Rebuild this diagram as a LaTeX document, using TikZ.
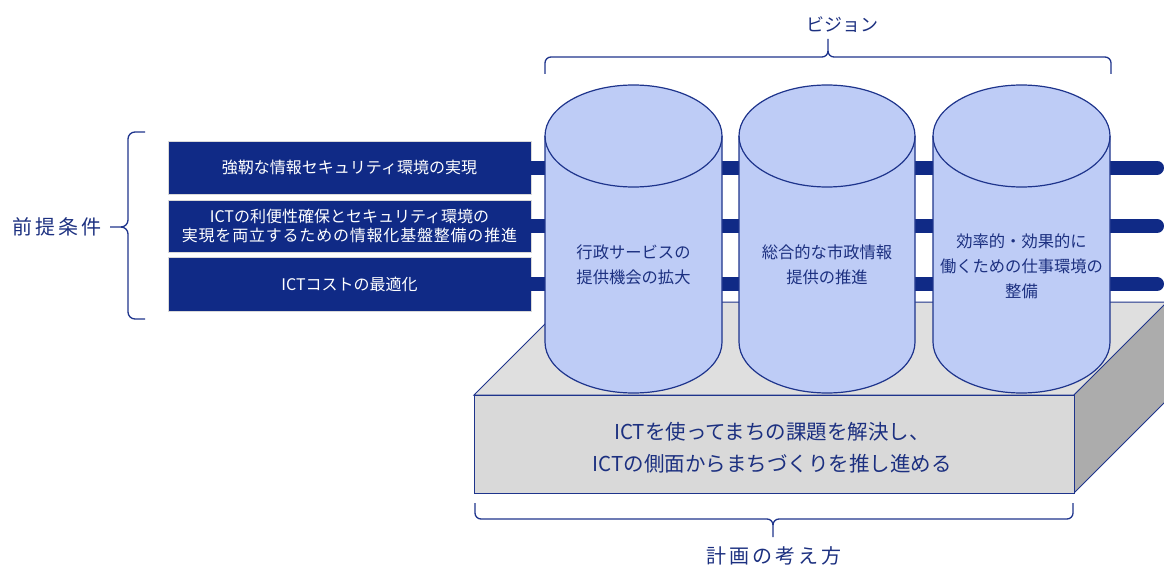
\documentclass[tikz,border=0pt]{standalone}
\usepackage{fontspec}
\setmainfont{Noto Sans CJK JP}
\definecolor{navy}{RGB}{16,42,134}
\definecolor{navyline}{RGB}{30,52,140}
\definecolor{cylfill}{RGB}{190,204,246}
\definecolor{txtnavy}{RGB}{28,48,128}
\definecolor{frontgrey}{RGB}{217,217,217}
\definecolor{topgrey}{RGB}{223,223,223}
\definecolor{sidegrey}{RGB}{172,172,172}
\begin{document}
\begin{tikzpicture}[x=1pt,y=1pt,
  pbox/.style={fill=navy, draw=black!15, line width=0.8pt, text=white, minimum width=363pt, inner sep=0pt, align=center, font=\fontsize{16}{19}\selectfont},
  bar/.style={draw=navy, line width=14pt, line cap=round},
  cyl/.style={fill=cylfill, draw=navyline, line width=1.2pt},
  cyltext/.style={text=txtnavy, align=center, font=\fontsize{16.3}{25}\selectfont},
  brace/.style={draw=navyline, line width=1.3pt},
  face/.style={draw=navyline, line width=1pt},
  lbl/.style={text=txtnavy, inner sep=0pt}]
\useasboundingbox (0,0) rectangle (1164,-567);

% platform top and side faces
\path[face, fill=topgrey] (474,-395) -- (567,-302) -- (1170,-302) -- (1074,-395) -- cycle;
\path[face, fill=sidegrey] (1074,-395) -- (1167,-302) -- (1167,-400) -- (1074,-493) -- cycle;

% premise boxes
\node[pbox, minimum height=53pt] (b1) at (349.5,-167.5) {強靭な情報セキュリティ環境の実現};
\node[pbox, minimum height=52pt] (b2) at (349.5,-226) {ICTの利便性確保とセキュリティ環境の\\{\addfontfeature{LetterSpace=5}実現を両立するための情報化基盤整備の推進}};
\node[pbox, minimum height=54pt] (b3) at (349.5,-284) {ICTコストの最適化};

% bars
\coordinate (e1) at (1157,-167.5);
\coordinate (e2) at (1157,-226);
\coordinate (e3) at (1157,-284);
\draw[bar] (b1.east) -- (e1);
\draw[bar] (b2.east) -- (e2);
\draw[bar] (b3.east) -- (e3);

% cylinders
\foreach \cx/\rx in {633.5/88.5, 827/88, 1021.5/88.5}{
  \path[cyl] (\cx-\rx,-136) -- (\cx-\rx,-342)
     arc[start angle=180, end angle=360, x radius=\rx, y radius=51]
     -- (\cx+\rx,-136)
     arc[start angle=0, end angle=180, x radius=\rx, y radius=51] -- cycle;
  \draw[navyline, line width=1.2pt] (\cx-\rx,-136) arc[start angle=180, end angle=360, x radius=\rx, y radius=51];
}
\node[cyltext] (v1) at (633.5,-265) {行政サービスの\\提供機会の拡大};
\node[cyltext] (v2) at (827,-265) {総合的な市政情報\\提供の推進};
\node[cyltext] (v3) at (1021.5,-266) {効率的・効果的に\\働くための仕事環境の\\整備};

% platform front face
\node[face, fill=frontgrey, minimum width=600pt, minimum height=98pt, inner sep=0pt, anchor=north west] (plat) at (474,-395) {};
\node[lbl, align=center, font=\fontsize{20.5}{32}\selectfont] (plattext) at (772,-448) {ICTを使ってまちの課題を解決し、\\ICTの側面からまちづくりを推し進める};

% braces
\draw[brace] (145,-132) -- (135,-132) to[out=180,in=90] (128,-139) -- (128,-220) to[out=270,in=0] (121,-227) -- (110,-227);
\draw[brace] (121,-227) to[out=0,in=90] (128,-234) -- (128,-312) to[out=270,in=180] (135,-319) -- (145,-319);
\node[lbl, font=\fontsize{20}{24}\selectfont\addfontfeature{LetterSpace=14}] (pre) at (57,-227) {前提条件};

\draw[brace] (545,-74) -- (545,-63) to[out=90,in=180] (551,-57) -- (822,-57) to[out=0,in=270] (828,-51) -- (828,-39);
\draw[brace] (828,-51) to[out=270,in=180] (834,-57) -- (1105,-57) to[out=0,in=90] (1111,-63) -- (1111,-74);
\node[lbl, font=\fontsize{18}{22}\selectfont] (vis) at (842,-25) {ビジョン};

\draw[brace] (475,-503) -- (475,-513) to[out=270,in=180] (481,-519) -- (767,-519) to[out=0,in=90] (773,-525) -- (773,-537);
\draw[brace] (773,-525) to[out=90,in=180] (779,-519) -- (1067,-519) to[out=0,in=270] (1073,-513) -- (1073,-503);
\node[lbl, font=\fontsize{20}{24}\selectfont\addfontfeature{LetterSpace=15}] (plan) at (774,-556) {計画の考え方};
\end{tikzpicture}
\end{document}
